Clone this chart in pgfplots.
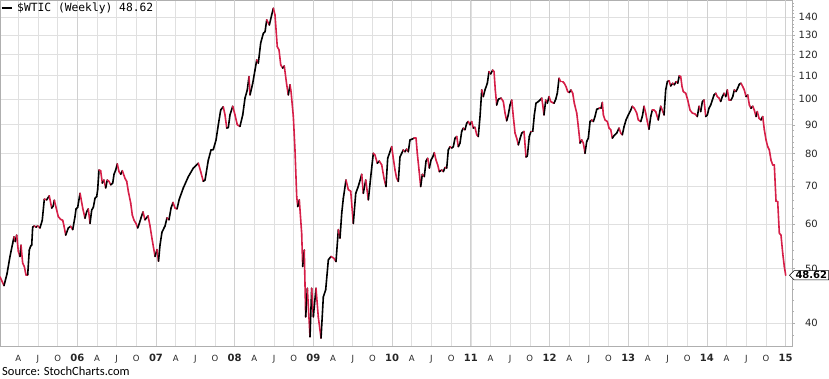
\documentclass[border=0pt]{standalone}
\usepackage{pgfplots}
\usepackage{pgfplotstable}
\pgfplotsset{compat=1.18}
\usepackage{fontspec}
\setmainfont{DejaVu Sans}
\newfontfamily\monofont{DejaVu Sans Mono}
\newfontfamily\srcfont{Carlito}
\usetikzlibrary{shapes.symbols}
\definecolor{scred}{RGB}{214,31,72}
\definecolor{gridc}{RGB}{224,224,224}
\definecolor{gridyr}{RGB}{208,208,208}
\definecolor{framec}{RGB}{175,175,175}
\pgfplotsset{colormap={updown}{rgb255=(214,31,72) rgb255=(0,0,0)}}
\newcommand{\yr}[1]{{\fontsize{10}{12}\selectfont\bfseries #1}}

\pgfplotstableread{
t v up
2005.018 48.3 0
2005.069 46.6 1
2005.107 48.9 1
2005.145 52.5 1
2005.179 55.4 1
2005.196 56.9 0
2005.212 55.8 1
2005.230 57.3 0
2005.251 53.6 0
2005.272 52.5 1
2005.285 55.0 0
2005.306 51.1 0
2005.327 50.4 0
2005.348 48.7 0
2005.370 48.7 1
2005.390 53.9 1
2005.408 54.8 1
2005.421 55.0 1
2005.433 59.2 1
2005.454 59.5 0
2005.475 59.2 1
2005.497 59.5 0
2005.526 59.0 1
2005.555 60.9 1
2005.581 66.4 0
2005.611 66.2 1
2005.644 67.3 0
2005.675 64.0 1
2005.695 64.6 1
2005.708 66.1 0
2005.730 64.2 0
2005.759 61.8 0
2005.789 61.1 0
2005.815 60.9 0
2005.831 59.5 0
2005.853 57.3 1
2005.886 59.0 1
2005.916 59.4 0
2005.942 58.6 1
2005.971 61.8 1
2005.984 63.8 1
2006.005 64.2 1
2006.035 68.0 0
2006.047 66.6 0
2006.069 64.0 0
2006.098 61.4 1
2006.120 63.1 1
2006.140 63.8 0
2006.162 60.1 1
2006.183 63.5 1
2006.204 64.2 1
2006.225 66.6 1
2006.247 67.1 1
2006.259 69.0 1
2006.276 74.8 0
2006.297 74.6 0
2006.318 70.9 1
2006.339 71.8 0
2006.361 69.5 1
2006.381 71.8 0
2006.403 71.4 0
2006.425 70.4 1
2006.450 70.9 1
2006.467 73.5 1
2006.488 74.8 1
2006.508 76.7 0
2006.530 74.3 0
2006.552 73.5 1
2006.572 74.6 0
2006.606 72.3 0
2006.628 71.4 0
2006.648 68.6 0
2006.679 65.3 0
2006.699 62.2 0
2006.721 60.9 0
2006.746 60.1 0
2006.768 59.0 1
2006.788 60.1 1
2006.810 61.5 1
2006.835 63.0 0
2006.860 61.0 1
2006.899 62.0 0
2006.924 59.5 0
2006.949 56.5 0
2006.988 52.5 1
2007.013 54.0 0
2007.032 51.5 1
2007.051 55.0 1
2007.076 58.0 1
2007.115 59.5 1
2007.140 61.5 0
2007.165 61.0 1
2007.191 64.0 1
2007.216 65.5 0
2007.242 64.0 0
2007.267 63.8 1
2007.296 66.4 1
2007.347 69.5 1
2007.411 72.8 1
2007.474 75.4 1
2007.538 76.9 0
2007.568 74.3 0
2007.601 71.4 1
2007.623 71.8 1
2007.665 77.9 1
2007.699 81.2 1
2007.728 81.3 1
2007.763 84.6 1
2007.792 90.0 1
2007.822 95.6 1
2007.855 96.9 0
2007.877 93.7 0
2007.899 88.8 1
2007.919 89.0 1
2007.940 93.7 1
2007.975 97.1 0
2008.004 93.7 0
2008.033 90.0 0
2008.067 89.4 1
2008.102 93.7 1
2008.131 100.4 1
2008.160 103.8 1
2008.182 109.6 0
2008.195 101.7 1
2008.229 106.7 1
2008.258 112.6 1
2008.280 117.4 0
2008.300 115.8 1
2008.330 125.7 1
2008.364 130.9 1
2008.386 131.8 1
2008.407 138.3 0
2008.440 135.4 1
2008.470 141.1 1
2008.491 145.0 0
2008.512 141.1 0
2008.541 123.9 0
2008.563 122.3 0
2008.585 115.0 0
2008.610 113.5 1
2008.630 114.5 0
2008.661 106.0 0
2008.681 101.7 1
2008.703 106.0 0
2008.716 103.1 0
2008.745 93.1 0
2008.766 81.2 0
2008.788 67.1 0
2008.801 64.4 1
2008.821 66.2 0
2008.851 57.7 0
2008.864 50.4 1
2008.884 53.9 0
2008.902 41.0 1
2008.923 46.1 0
2008.957 37.8 1
2008.978 46.1 0
2008.999 41.0 1
2009.033 46.1 0
2009.062 41.0 0
2009.097 37.6 1
2009.126 44.5 1
2009.156 45.8 1
2009.190 51.8 1
2009.224 52.5 0
2009.262 52.1 0
2009.287 51.4 1
2009.317 58.6 0
2009.338 56.6 1
2009.360 62.7 1
2009.380 66.6 1
2009.414 71.8 0
2009.444 69.0 0
2009.474 68.6 0
2009.507 60.1 1
2009.538 68.0 1
2009.563 69.5 1
2009.583 70.9 1
2009.614 73.5 0
2009.634 68.0 1
2009.665 71.8 0
2009.698 66.2 1
2009.732 73.5 1
2009.761 80.1 0
2009.783 79.5 0
2009.812 76.9 1
2009.837 77.6 0
2009.868 76.4 0
2009.897 72.3 0
2009.922 69.9 1
2009.944 78.5 1
2009.973 80.6 1
2009.995 82.3 0
2010.015 78.5 0
2010.037 74.8 0
2010.058 72.3 0
2010.079 71.4 1
2010.100 78.9 1
2010.122 80.1 1
2010.142 81.2 0
2010.164 80.6 1
2010.185 81.5 0
2010.206 80.6 1
2010.227 84.6 1
2010.249 84.8 1
2010.278 85.2 0
2010.304 85.2 0
2010.320 80.1 0
2010.342 74.8 0
2010.363 69.9 1
2010.384 73.5 0
2010.409 72.8 1
2010.431 77.6 1
2010.452 78.5 0
2010.473 75.4 1
2010.494 77.9 1
2010.516 78.9 1
2010.536 80.3 0
2010.558 77.9 0
2010.579 76.4 0
2010.600 74.3 1
2010.630 74.8 0
2010.651 74.3 1
2010.672 75.6 0
2010.694 75.4 1
2010.714 81.2 1
2010.736 82.3 0
2010.757 81.8 1
2010.778 82.3 1
2010.799 85.2 1
2010.821 85.8 0
2010.841 82.3 1
2010.863 83.5 1
2010.884 87.6 1
2010.905 88.8 0
2010.926 88.2 1
2010.948 90.6 1
2010.968 91.2 0
2010.990 90.0 1
2011.011 91.2 0
2011.032 88.8 1
2011.053 89.1 0
2011.075 86.4 0
2011.095 85.8 1
2011.117 93.1 1
2011.139 103.8 0
2011.159 101.0 1
2011.180 103.8 1
2011.210 106.7 1
2011.231 111.9 0
2011.253 110.8 1
2011.278 112.6 0
2011.295 111.9 0
2011.311 103.8 0
2011.329 97.6 1
2011.349 99.9 1
2011.384 100.4 0
2011.413 99.0 0
2011.435 94.4 0
2011.456 91.5 1
2011.476 93.7 1
2011.498 97.6 1
2011.520 99.6 0
2011.540 93.1 0
2011.562 87.0 0
2011.583 85.2 0
2011.604 82.9 1
2011.625 85.0 1
2011.647 87.0 1
2011.676 87.6 0
2011.701 78.9 1
2011.718 79.2 1
2011.743 85.8 1
2011.765 87.6 0
2011.787 87.6 1
2011.807 93.7 1
2011.828 98.3 1
2011.858 99.0 1
2011.879 99.6 1
2011.901 100.4 0
2011.914 97.6 0
2011.930 93.7 1
2011.952 99.6 0
2011.972 98.3 1
2011.994 101.0 0
2012.015 99.0 0
2012.036 98.6 0
2012.057 98.3 1
2012.079 99.9 1
2012.099 102.4 1
2012.121 108.9 0
2012.142 107.4 0
2012.168 107.4 0
2012.188 106.7 0
2012.210 105.2 0
2012.231 103.1 0
2012.252 102.7 1
2012.273 103.8 0
2012.295 102.4 0
2012.315 98.3 0
2012.346 94.4 0
2012.366 89.3 0
2012.388 83.5 1
2012.409 84.6 0
2012.430 83.5 0
2012.451 80.1 1
2012.473 84.1 1
2012.493 85.2 1
2012.515 91.2 1
2012.536 91.8 0
2012.557 91.2 1
2012.578 93.1 1
2012.600 95.9 1
2012.633 96.3 0
2012.655 96.3 1
2012.671 98.6 0
2012.684 93.7 0
2012.705 91.8 0
2012.735 91.2 0
2012.756 88.8 0
2012.778 88.2 0
2012.798 85.2 1
2012.823 86.2 1
2012.854 87.0 1
2012.883 88.8 0
2012.905 87.0 0
2012.925 86.4 1
2012.947 89.3 1
2012.972 91.8 1
2013.001 93.7 1
2013.032 95.6 1
2013.052 97.1 0
2013.077 96.3 0
2013.108 94.4 0
2013.128 91.8 0
2013.159 91.2 1
2013.179 93.1 1
2013.201 97.1 0
2013.222 94.4 0
2013.243 91.2 0
2013.264 88.4 1
2013.286 93.1 1
2013.306 95.6 0
2013.328 95.6 0
2013.349 95.0 0
2013.382 91.8 1
2013.413 97.1 0
2013.433 95.6 0
2013.455 93.7 1
2013.476 103.8 1
2013.497 107.4 1
2013.518 107.8 0
2013.540 105.5 1
2013.565 106.7 0
2013.586 106.0 1
2013.607 107.4 0
2013.629 106.7 1
2013.649 110.0 0
2013.667 109.6 0
2013.684 105.2 0
2013.700 103.1 0
2013.731 102.4 0
2013.756 99.6 0
2013.785 95.6 0
2013.815 94.4 0
2013.849 94.1 0
2013.878 93.1 1
2013.900 97.1 0
2013.921 95.0 1
2013.942 99.0 1
2013.963 99.6 0
2013.985 93.1 1
2014.005 93.7 1
2014.026 96.3 1
2014.048 97.6 1
2014.069 99.6 1
2014.090 101.7 1
2014.112 102.4 0
2014.132 101.0 0
2014.154 100.4 0
2014.175 99.0 1
2014.196 101.0 1
2014.217 102.4 0
2014.239 101.0 1
2014.259 103.8 0
2014.281 99.6 0
2014.306 99.6 1
2014.328 101.0 1
2014.348 103.8 0
2014.370 103.1 1
2014.391 104.6 1
2014.412 106.3 1
2014.433 106.7 0
2014.455 105.2 0
2014.475 103.8 0
2014.497 101.0 1
2014.518 101.7 0
2014.539 97.6 0
2014.560 96.3 1
2014.582 97.1 0
2014.602 95.6 0
2014.624 93.1 1
2014.640 95.0 0
2014.662 92.4 0
2014.687 91.8 1
2014.709 93.1 0
2014.729 88.2 0
2014.751 84.6 0
2014.772 82.3 0
2014.793 81.2 0
2014.814 77.9 0
2014.836 76.4 0
2014.856 76.4 0
2014.878 65.8 0
2014.899 65.8 0
2014.920 57.7 0
2014.941 57.3 0
2014.963 53.2 0
2014.983 50.4 0
2015.001 48.62 0
}\wtic

\begin{document}
\begin{tikzpicture}
\path[use as bounding box] (0,0) rectangle (829pt,378pt);
\begin{axis}[
  at={(0pt,32pt)}, anchor=south west,
  width=792pt, height=346pt, scale only axis,
  xmin=2005.018, xmax=2015.081,
  ymode=log, ymin=36.4, ymax=150,
  axis line style={framec, line width=0.7pt},
  /pgf/number format/assume math mode=true,
  xtick={2005.25,2005.5,2005.75,2006,2006.25,2006.5,2006.75,2007,2007.25,2007.5,2007.75,2008,2008.25,2008.5,2008.75,2009,2009.25,2009.5,2009.75,2010,2010.25,2010.5,2010.75,2011,2011.25,2011.5,2011.75,2012,2012.25,2012.5,2012.75,2013,2013.25,2013.5,2013.75,2014,2014.25,2014.5,2014.75,2015},
  xticklabels={A,J,O,\yr{06},A,J,O,\yr{07},A,J,O,\yr{08},A,J,O,\yr{09},A,J,O,\yr{10},A,J,O,\yr{11},A,J,O,\yr{12},A,J,O,\yr{13},A,J,O,\yr{14},A,J,O,\yr{15}},
  xticklabel style={font=\fontsize{8.5}{10}\selectfont, anchor=base, inner sep=0pt, yshift=-12.5pt, text=black!85},
  xtick style={draw=none},
  extra x ticks={2006,2007,2008,2009,2010,2011,2012,2013,2014,2015},
  extra x tick labels={},
  extra x tick style={grid=major, major grid style={gridyr, line width=0.7pt}, tick style={draw=none}},
  ytick={40,50,60,70,80,90,100,110,120,130,140},
  yticklabels={40,50,60,70,80,90,100,110,120,130,140},
  minor ytick={38,42,44,46,48,52,54,56,58,62,64,66,68,72,74,76,78,82,84,86,88,92,94,96,98,102,104,106,108,112,114,116,118,122,124,126,128,132,134,136,138,142,144,146,148},
  yticklabel pos=right,
  yticklabel style={font=\fontsize{10}{12}\selectfont, anchor=east, inner sep=0pt, xshift=23pt, text=black!85},
  ytick style={framec},
  tick align=outside,
  major tick length=3pt, minor tick length=2pt,
  grid=major,
  major grid style={gridc, line width=0.6pt},
]
\addplot[mesh, shader=flat corner, colormap name=updown, point meta=explicit,
  point meta min=0, point meta max=1, line width=1.6pt, line cap=round]
  table[x=t, y=v, meta=up] {\wtic};
\coordinate (last) at (axis cs:2015.081,48.62);
\end{axis}
\draw[black, line width=1.6pt] (1.7pt,370pt) -- (11.7pt,370pt);
\node[anchor=base west, inner sep=0pt, font=\monofont\fontsize{11.3}{13}\selectfont] at (17pt,366.3pt) {\$WTIC (Weekly) 48.62};
\node[anchor=base west, inner sep=0pt, font=\srcfont\fontsize{12.5}{14}\selectfont] at (2pt,2.3pt) {Source: StochCharts.com};
\node[signal, signal to=west, draw=black, fill=white, line width=0.6pt, inner xsep=1.5pt, inner ysep=0.8pt, font=\fontsize{10}{11}\selectfont\bfseries, anchor=west] at ([xshift=-3pt]last) {48.62};
\end{tikzpicture}
\end{document}
